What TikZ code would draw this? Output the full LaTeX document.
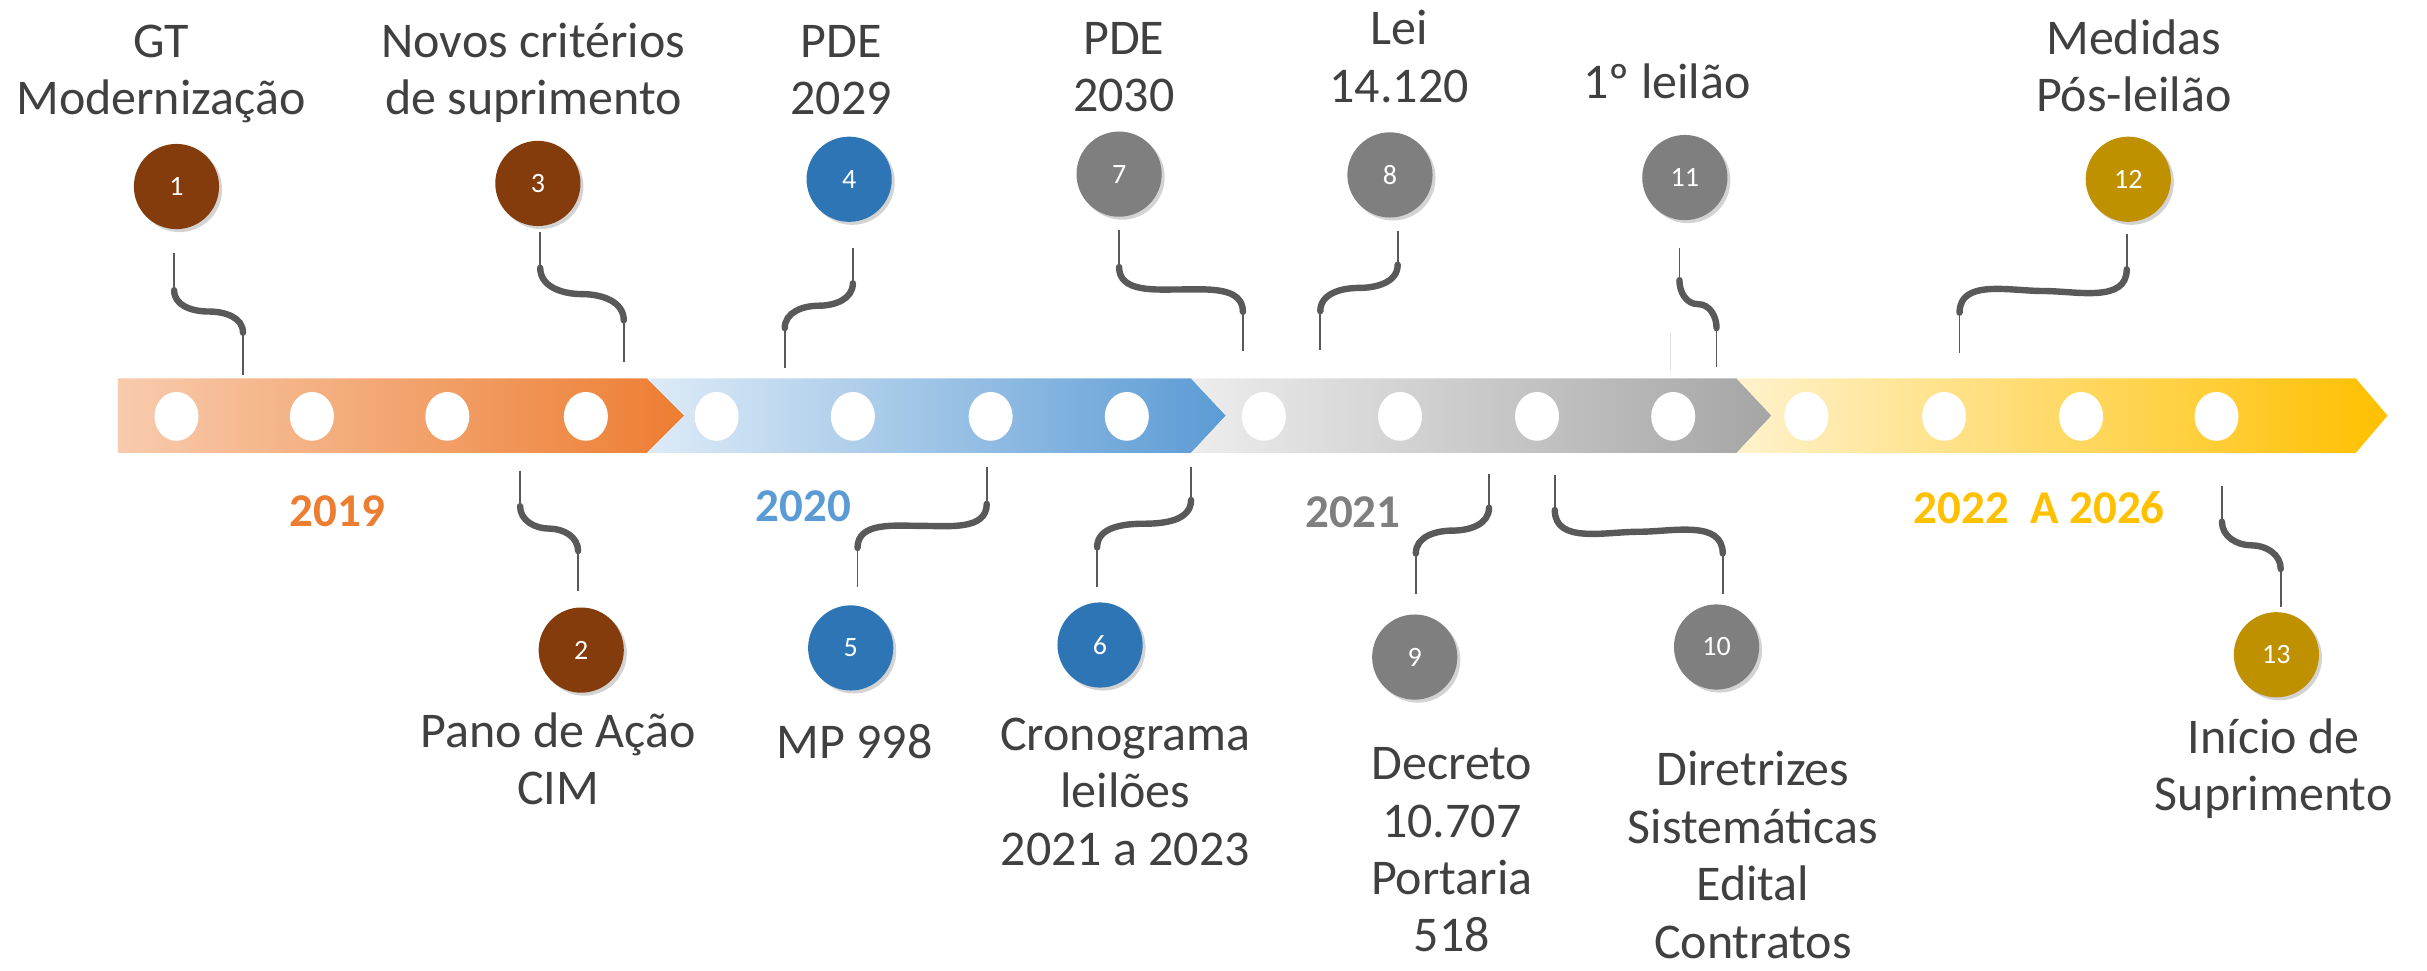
\documentclass[tikz,border=0pt]{standalone}
\usepackage{fontspec}
\setmainfont{Carlito}
\usetikzlibrary{shadows,calc}
\definecolor{txt}{HTML}{404040}
\definecolor{lnc}{HTML}{595959}
\definecolor{brn}{HTML}{843C0C}
\definecolor{blu}{HTML}{2E75B6}
\definecolor{gry}{HTML}{7F7F7F}
\definecolor{gld}{HTML}{BF9000}
\definecolor{or1}{HTML}{F8CBAD}
\definecolor{or2}{HTML}{ED7D31}
\definecolor{bl1}{HTML}{DEEBF7}
\definecolor{bl2}{HTML}{5B9BD5}
\definecolor{gr1}{HTML}{EDEDED}
\definecolor{gr2}{HTML}{A5A5A5}
\definecolor{ye1}{HTML}{FFF2CC}
\definecolor{ye2}{HTML}{FFC000}
\newcommand\conn[9]{%
  \coordinate (#1a) at (#2,#3);
  \coordinate (#1b) at (#2,#4);
  \coordinate (#1c) at (#5,#6);
  \coordinate (#1d) at (#5,#7);
  \draw[thinln] (#1a) -- (#1b);
  \draw[thinln] (#1c) -- (#1d);
  \draw[thickln] (#1b) to[out=-90,in=#8] ($(#1b)!.5!(#1c)$) to[out=#9,in=90] (#1c);
}
\begin{document}
\begin{tikzpicture}[x=0.774pt,y=-0.774pt,
  lbl/.style={font=\fontsize{25}{28.7}\selectfont, text=txt, align=center, anchor=base, inner sep=0},
  yr/.style={font=\fontsize{23.5}{28}\selectfont\bfseries, anchor=base, inner sep=0},
  num/.style={circle, minimum size=42.6pt, inner sep=0, text=white,
    font=\fontsize{14}{16}\selectfont,
    drop shadow={opacity=0.35,shadow xshift=1.5pt,shadow yshift=-1.5pt}},
  thinln/.style={draw=lnc, line width=0.9pt},
  thickln/.style={draw=lnc, line width=3.2pt, line cap=round},
]
\useasboundingbox (0,0) rectangle (1568,627);
% band
\shade[left color=or1, right color=or2] (76.2,244.5) -- (418,244.5) -- (442,268.5) -- (418,292.6) -- (76.2,292.6) -- cycle;
\shade[left color=bl1, right color=bl2] (418,244.5) -- (769.5,244.5) -- (792,268.5) -- (769.5,292.6) -- (418,292.6) -- (442,268.5) -- cycle;
\shade[left color=gr1, right color=gr2] (769.5,244.5) -- (1122,244.5) -- (1144.5,268.5) -- (1122,292.6) -- (769.5,292.6) -- (792,268.5) -- cycle;
\shade[left color=ye1, right color=ye2] (1122,244.5) -- (1522,244.5) -- (1542.5,268.5) -- (1522,292.6) -- (1122,292.6) -- (1144.5,268.5) -- cycle;
\foreach \x in {114,201.5,289,378.5,463,551,640,728,816.5,904.5,993,1081,1167,1256,1344.5,1432}
  \fill[white] (\x,269) ellipse [x radius=11pt, y radius=12.2pt];
% years
\node[yr, text=or2] (y19) at (218,340) {2019};
\node[yr, text=bl2] (y20) at (519,336.6) {2020};
\node[yr, text=gry] (y21) at (874,341) {2021};
\node[yr, text=ye2] (y22) at (1317.5,338.5) {2022\ \ A 2026};
% circles
\node[num, fill=brn] (n1) at (114,120.5) {1};
\node[num, fill=brn] (n3) at (347.5,118.5) {3};
\node[num, fill=blu] (n4) at (548.6,115.8) {4};
\node[num, fill=gry] (n7) at (723,112.5) {7};
\node[num, fill=gry] (n8) at (898,113) {8};
\node[num, fill=gry] (n11) at (1088.5,114.7) {11};
\node[num, fill=gld] (n12) at (1375,115.8) {12};
\node[num, fill=brn] (n2) at (375.5,420) {2};
\node[num, fill=blu] (n5) at (549.6,418.6) {5};
\node[num, fill=blu] (n6) at (710.7,416.7) {6};
\node[num, fill=gry] (n9) at (914,424.5) {9};
\node[num, fill=gry] (n10) at (1109,418) {10};
\node[num, fill=gld] (n13) at (1470.7,423) {13};
% connectors
\conn{c1}{112.5}{163.5}{187.5}{157}{215}{242}{180}{0}
\conn{c3}{349}{150}{173}{403}{207}{234}{180}{0}
\conn{c4}{551}{160}{183}{507}{212}{238}{0}{180}
\conn{c7}{723}{148.6}{172.5}{803}{201.5}{227}{180}{0}
\conn{c8}{903}{149}{171}{853}{201}{226}{0}{180}
\conn{c11}{1085}{160}{181}{1109}{212}{237}{180}{0}
\conn{c12}{1374}{151}{174}{1266}{202}{228}{0}{180}
\conn{c2}{336}{304}{327}{373.5}{356}{382}{180}{0}
\conn{c5}{637.5}{302}{325.5}{554}{354}{379}{0}{180}
\conn{c6}{769.5}{301.4}{323}{708.8}{353.7}{379}{0}{180}
\conn{c9}{962}{306.5}{328}{914.7}{357.6}{383.7}{0}{180}
\conn{c10}{1004.5}{307}{329.5}{1113}{357.6}{384}{180}{0}
\conn{c13}{1435.5}{314}{337}{1473.5}{367.6}{392}{180}{0}
\coordinate (g1) at (1079,215);
\coordinate (g2) at (1079,239);
\draw[gray!25, line width=0.5pt] (g1) -- (g2);
% labels (anchor = baseline of last line)
\node[lbl] (t1) at (104,74) {GT\\Modernização};
\node[lbl] (t3) at (344.6,74) {Novos critérios\\de suprimento};
\node[lbl] (t4) at (543.4,74) {PDE\\2029};
\node[lbl] (t7) at (726,72) {PDE\\2030};
\node[lbl] (t8) at (904,66) {Lei\\14.120};
\node[lbl] (t11) at (1077,63.5) {1º leilão};
\node[lbl] (t12) at (1378.6,72) {Medidas\\Pós-leilão};
\node[lbl] (t2) at (360.5,519.7) {Pano de Ação\\CIM};
\node[lbl] (t5) at (552,490) {MP 998};
\node[lbl] (t6) at (727,559) {Cronograma\\leilões\\2021 a 2023};
\node[lbl] (t9) at (938,615) {Decreto\\10.707\\Portaria\\518};
\node[lbl] (t10) at (1132.5,619) {Diretrizes\\Sistemáticas\\Edital\\Contratos};
\node[lbl] (t13) at (1469,523.6) {Início de\\Suprimento};
\end{tikzpicture}
\end{document}
